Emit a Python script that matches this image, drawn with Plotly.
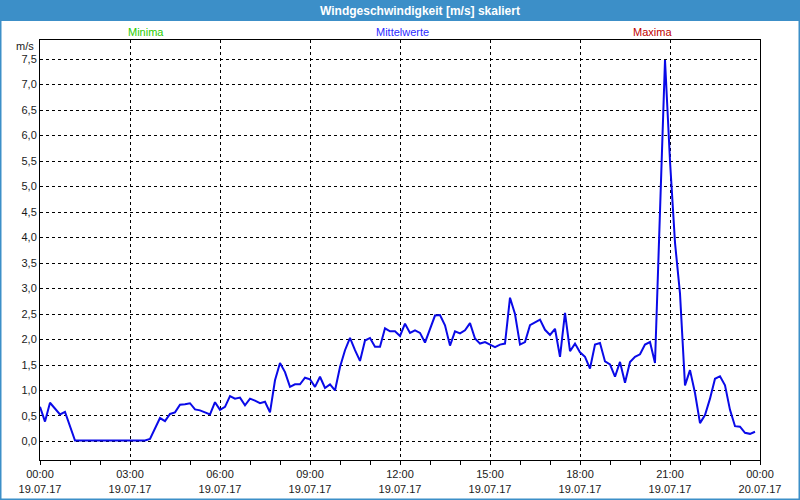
import pandas as pd
import plotly.graph_objects as go

# 10-minute mean wind speed values (m/s), 19.07.17 00:00 .. 23:50
wind = [
    0.68, 0.39, 0.76, 0.65, 0.53, 0.58, 0.31, 0.02, 0.02, 0.02,
    0.02, 0.02, 0.02, 0.02, 0.02, 0.02, 0.02, 0.02, 0.02, 0.02,
    0.02, 0.02, 0.05, 0.25, 0.46, 0.40, 0.54, 0.57, 0.72, 0.73,
    0.75, 0.63, 0.61, 0.57, 0.53, 0.77, 0.62, 0.68, 0.89, 0.84,
    0.86, 0.71, 0.84, 0.80, 0.75, 0.78, 0.57, 1.20, 1.54, 1.36,
    1.07, 1.12, 1.12, 1.25, 1.22, 1.07, 1.27, 1.05, 1.12, 1.00,
    1.46, 1.79, 2.03, 1.79, 1.58, 1.98, 2.03, 1.86, 1.86, 2.22,
    2.16, 2.16, 2.07, 2.31, 2.13, 2.18, 2.13, 1.94, 2.22, 2.47,
    2.48, 2.28, 1.88, 2.16, 2.12, 2.18, 2.32, 2.02, 1.92, 1.95,
    1.90, 1.85, 1.90, 1.92, 2.82, 2.50, 1.90, 1.95, 2.28, 2.34,
    2.39, 2.19, 2.09, 2.21, 1.66, 2.52, 1.77, 1.92, 1.75, 1.66,
    1.43, 1.90, 1.93, 1.57, 1.51, 1.27, 1.56, 1.15, 1.56, 1.66,
    1.71, 1.90, 1.95, 1.54, 4.50, 7.48, 5.50, 3.90, 2.90, 1.10,
    1.40, 0.95, 0.36, 0.52, 0.84, 1.23, 1.28, 1.10, 0.62, 0.30,
    0.29, 0.17, 0.15, 0.19,
]
start_time = "2017-07-19 00:00"
end_time = "2017-07-20 00:00"
y_ticks = [0.0, 0.5, 1.0, 1.5, 2.0, 2.5, 3.0, 3.5, 4.0, 4.5, 5.0, 5.5, 6.0, 6.5, 7.0, 7.5]
title_text = "Windgeschwindigkeit [m/s] skaliert"
legend_labels = ["Minima", "Mittelwerte", "Maxima"]
legend_colors = ["#2ACC00", "#2B2BFF", "#C00000"]
unit_label = "m/s"

times = pd.date_range(start_time, periods=len(wind), freq="10min")

W, H = 800, 500
L, R, T, B = 40, 40, 40, 40
pw, ph = W - L - R, H - T - B


def px(x):
    return (x - L) / pw


def py(y):
    return (H - B - y) / ph


FONT = "Liberation Sans"
BAR = "#3C8FC8"

fig = go.Figure()
fig.add_trace(go.Scatter(
    x=times, y=wind, mode="lines",
    line=dict(color="#0A0AE8", width=2),
    showlegend=False, hoverinfo="skip",
))

shapes = [
    dict(type="rect", xref="paper", yref="paper",
         x0=px(0), x1=px(W), y0=py(21), y1=py(0),
         fillcolor=BAR, line=dict(width=0), layer="below"),
    dict(type="rect", xref="paper", yref="paper",
         x0=px(0.5), x1=px(W - 0.5), y0=py(H - 0.5), y1=py(0),
         fillcolor="rgba(0,0,0,0)", line=dict(color=BAR, width=2)),
]

annotations = [
    dict(text="<b>" + title_text + "</b>", x=px(420), y=py(10.5),
         xref="paper", yref="paper", showarrow=False,
         font=dict(family=FONT, size=12, color="white"),
         xanchor="center", yanchor="middle"),
    dict(text=unit_label, x=px(36), y=py(46), xref="paper", yref="paper",
         showarrow=False, font=dict(family=FONT, size=11, color="#1a1a1a"),
         xanchor="right", yanchor="middle"),
]
for lab, col, cx in zip(legend_labels, legend_colors, [146, 402, 652]):
    annotations.append(dict(text=lab, x=px(cx), y=py(32), xref="paper", yref="paper",
                            showarrow=False, font=dict(family=FONT, size=11, color=col),
                            xanchor="center", yanchor="middle"))

fig.update_layout(
    width=W, height=H,
    margin=dict(l=L, r=R, t=T, b=B, pad=0, autoexpand=False),
    paper_bgcolor="white", plot_bgcolor="white",
    font=dict(family=FONT, size=11, color="#1a1a1a"),
    shapes=shapes, annotations=annotations,
    separators=",.",
    xaxis=dict(
        range=[pd.Timestamp(start_time), pd.Timestamp(end_time)],
        dtick=3 * 3600 * 1000, tick0=pd.Timestamp(start_time),
        tickformat="%H:%M<br>%d.%m.%y",
        ticks="outside", ticklen=4, tickcolor="black", tickwidth=1,
        minor=dict(dtick=3600 * 1000, ticks="outside", ticklen=4,
                   tickcolor="black", showgrid=False),
        showgrid=True, gridcolor="black", gridwidth=1, griddash="3px,3px",
        showline=True, linecolor="black", linewidth=1, mirror=True,
        zeroline=False, fixedrange=True, automargin=False,
    ),
    yaxis=dict(
        range=[-0.363, 7.873],
        tickvals=y_ticks, tickformat=".1f",
        ticks="", ticklen=0,
        showgrid=True, gridcolor="black", gridwidth=1, griddash="3px,3px",
        showline=True, linecolor="black", linewidth=1, mirror=True,
        zeroline=False, fixedrange=True, automargin=False,
    ),
)

fig.write_html("out.html")
